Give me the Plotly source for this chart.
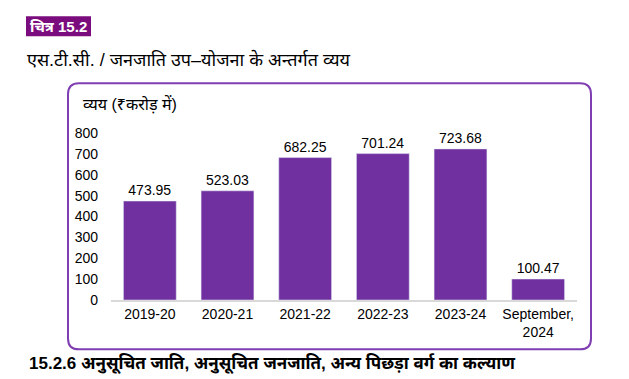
import plotly.graph_objects as go

categories = ["2019-20", "2020-21", "2021-22", "2022-23", "2023-24", "September,<br>2024"]
values = [473.95, 523.03, 682.25, 701.24, 723.68, 100.47]
value_labels = ["473.95", "523.03", "682.25", "701.24", "723.68", "100.47"]
y_ticks = [0, 100, 200, 300, 400, 500, 600, 700, 800]

PURPLE = "#7030A0"
W, H = 629, 379
L, R, T, B = 103, 60, 125, 86.5
pw = W - L - R
ph = H - T - B

def px(x):
    return (x - L) / pw

def py(y):
    return (H - B - y) / ph

fig = go.Figure()
fig.add_trace(go.Bar(
    x=categories, y=values, marker_color=PURPLE,
    text=value_labels, textposition="outside",
    textfont=dict(size=14, color="#000000", family="Liberation Sans, Arial"),
    cliponaxis=False, hoverinfo="skip",
))

# rounded chart frame
x0, x1, y0, y1, r = 60, 583, 75, 342, 11
rx, ry = r / pw, r / ph
path = (
    f"M {px(x0)+rx},{py(y0)} L {px(x1)-rx},{py(y0)} Q {px(x1)},{py(y0)} {px(x1)},{py(y0)-ry} "
    f"L {px(x1)},{py(y1)+ry} Q {px(x1)},{py(y1)} {px(x1)-rx},{py(y1)} "
    f"L {px(x0)+rx},{py(y1)} Q {px(x0)},{py(y1)} {px(x0)},{py(y1)+ry} "
    f"L {px(x0)},{py(y0)-ry} Q {px(x0)},{py(y0)} {px(x0)+rx},{py(y0)} Z"
)
shapes = [
    dict(type="path", xref="paper", yref="paper", path=path,
         line=dict(color="#7F3FB2", width=2), fillcolor="rgba(0,0,0,0)", layer="below"),
    dict(type="rect", xref="paper", yref="paper",
         x0=px(18), x1=px(83), y0=py(28), y1=py(8),
         fillcolor="#7B0C7E", line=dict(width=0)),
]

font_main = "Liberation Sans, Arial, Noto Sans, sans-serif"
annotations = [
    dict(text="<b>चित्र 15.2</b>", xref="paper", yref="paper", x=px(20), y=py(18),
         xanchor="left", yanchor="middle", showarrow=False,
         font=dict(size=15, color="white", family=font_main)),
    dict(text="एस.टी.सी. / जनजाति उप–योजना के अन्तर्गत व्यय", xref="paper", yref="paper",
         x=px(17), y=py(51), xanchor="left", yanchor="middle", showarrow=False,
         font=dict(size=18, color="#000000", family=font_main)),
    dict(text="व्यय (₹करोड़ में)", xref="paper", yref="paper",
         x=px(73), y=py(96), xanchor="left", yanchor="middle", showarrow=False,
         font=dict(size=16, color="#000000", family=font_main)),
    dict(text="<b>15.2.6 अनुसूचित जाति, अनुसूचित जनजाति, अन्य पिछड़ा वर्ग का कल्याण</b>",
         xref="paper", yref="paper", x=px(19), y=py(357), xanchor="left", yanchor="middle",
         showarrow=False, font=dict(size=17, color="#000000", family=font_main)),
]

fig.update_layout(
    width=W, height=H,
    margin=dict(l=L, r=R, t=T, b=B, pad=0),
    paper_bgcolor="white", plot_bgcolor="white",
    bargap=0.32, showlegend=False,
    shapes=shapes, annotations=annotations,
    font=dict(family=font_main, size=14, color="#000000"),
)
fig.update_xaxes(
    showgrid=False, showline=True, linecolor="#D9D9D9", linewidth=2,
    ticks="", tickfont=dict(size=14, color="#000000"), fixedrange=True,
)
fig.update_yaxes(
    range=[0, 800], tickvals=y_ticks, showgrid=False, zeroline=False,
    showline=False, ticks="", ticklabelstandoff=12,
    tickfont=dict(size=14, color="#000000"), fixedrange=True,
)

fig.write_html("out.html", config={"displayModeBar": False})
